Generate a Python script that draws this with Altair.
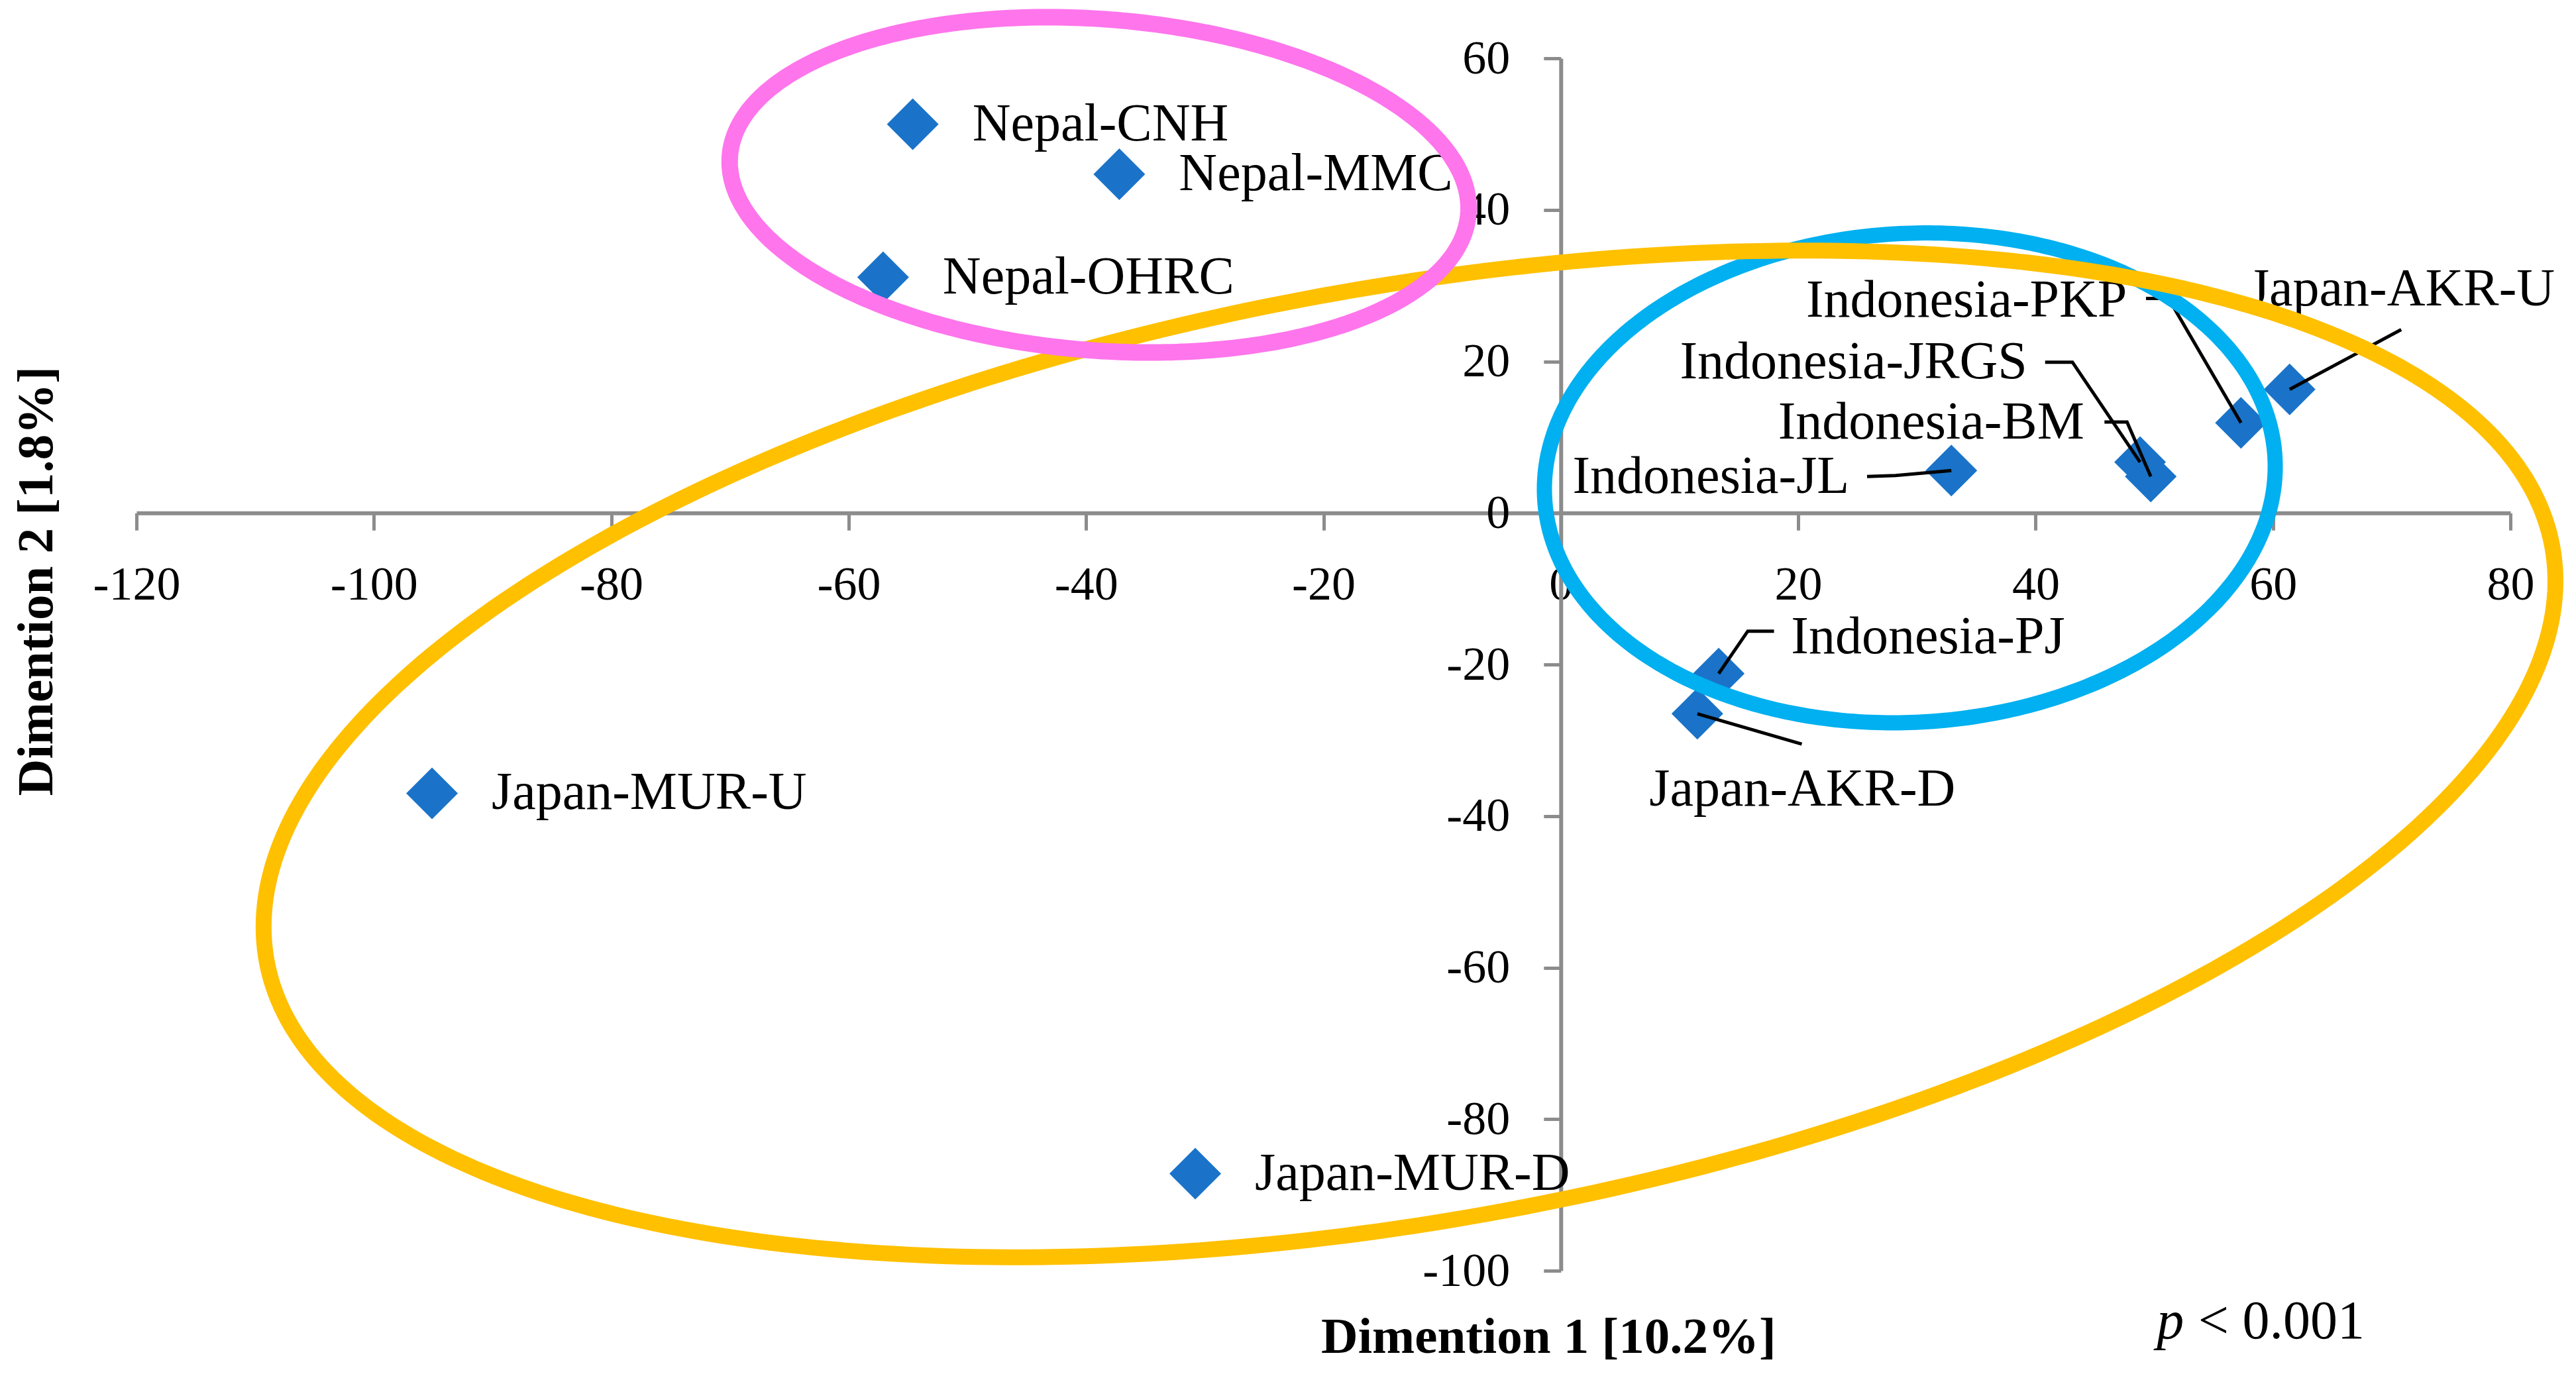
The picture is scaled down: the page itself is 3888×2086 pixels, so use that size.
import altair as alt
import numpy as np
import pandas as pd

# ---------------- data ----------------
names = ["Nepal-CNH", "Nepal-MMC", "Nepal-OHRC", "Japan-MUR-U", "Japan-MUR-D",
         "Indonesia-JL", "Indonesia-JRGS", "Indonesia-BM", "Indonesia-PKP",
         "Japan-AKR-U", "Indonesia-PJ", "Japan-AKR-D"]
dim1 = [-54.6, -37.2, -57.1, -95.1, -30.8, 32.9, 48.8, 49.7, 57.3, 61.4, 13.3, 11.5]
dim2 = [51.3, 44.7, 31.1, -37.0, -87.2, 5.6, 6.7, 4.8, 11.9, 16.3, -21.2, -26.5]

x_ticks = [-120, -100, -80, -60, -40, -20, 0, 20, 40, 60, 80]
y_ticks = [-100, -80, -60, -40, -20, 0, 20, 40, 60]

# labels placed directly to the right of their point
side_labels = ["Nepal-CNH", "Nepal-MMC", "Nepal-OHRC", "Japan-MUR-U", "Japan-MUR-D"]

# call-out labels (anchor in data units)
callout_names = ["Indonesia-PKP", "Indonesia-JRGS", "Indonesia-BM", "Indonesia-JL",
                 "Indonesia-PJ", "Japan-AKR-U", "Japan-AKR-D"]
callout_x = [47.7, 39.3, 44.1, 24.3, 19.4, 57.95, 7.45]
callout_y = [28.0, 19.9, 11.9, 4.7, -16.4, 29.5, -36.5]
callout_align = ["right", "right", "right", "right", "left", "left", "left"]

# leader lines: start / elbow points (data units), ending at the point itself
leader_pts = {
    "Indonesia-PKP": [(49.3, 28.3), (51.2, 28.3)],
    "Indonesia-JRGS": [(40.8, 19.9), (43.1, 19.9)],
    "Indonesia-BM": [(45.8, 12.0), (47.7, 12.0)],
    "Indonesia-JL": [(25.8, 4.8), (28.2, 4.95)],
    "Indonesia-PJ": [(17.96, -15.6), (15.75, -15.6)],
    "Japan-AKR-U": [(70.8, 24.2)],
    "Japan-AKR-D": [(20.3, -30.5)],
}

# group ellipses
ell_names = ["blue", "yellow", "pink"]
ell_cx = [29.4, -12.75, -38.9]
ell_cy = [4.63, -31.8, 43.3]
ell_a_px = [552, 1753, 559]
ell_b_px = [369, 704, 250]
ell_rot = [3.2, 10.25, -4.5]
ell_color = ["#00B0F0", "#FFC000", "#FF75EC"]
ell_width = [23, 24, 25]

# axis titles / note
title_x_text = "Dimention 1 [10.2%]"
title_y_text = "Dimention 2 [1.8%]"

# ---------------- layout ----------------
W, H = 3583, 1830
PX_X = W / 200.0
PX_Y = H / 160.0
FONT = "Liberation Serif"
AXIS_GRAY = "#8c8c8c"

x_scale = alt.Scale(domain=[-120, 80], nice=False, zero=False)
y_scale = alt.Scale(domain=[-100, 60], nice=False, zero=False)

x_axis = alt.Axis(values=x_ticks, orient="bottom", offset=-(H - 60 * PX_Y),
                  domainColor=AXIS_GRAY, domainWidth=6, tickColor=AXIS_GRAY,
                  tickWidth=5, tickSize=26, labelFont=FONT, labelFontSize=72,
                  labelColor="black", labelPadding=47, labelFlush=False,
                  labelOverlap=False, grid=False, title=None,
                  labelExpr="'' + datum.value")
y_axis = alt.Axis(values=y_ticks, orient="left", offset=-(120 * PX_X),
                  domainColor=AXIS_GRAY, domainWidth=6, tickColor=AXIS_GRAY,
                  tickWidth=5, tickSize=26, labelFont=FONT, labelFontSize=72,
                  labelColor="black", labelPadding=51, labelFlush=False,
                  labelOverlap=False, grid=False, title=None,
                  labelExpr="'' + datum.value")


def X(field="x"):
    return alt.X(f"{field}:Q", scale=x_scale, axis=x_axis)


def Y(field="y"):
    return alt.Y(f"{field}:Q", scale=y_scale, axis=y_axis)


pts = pd.DataFrame({"name": names, "x": dim1, "y": dim2})

points = alt.Chart(pts).mark_point(shape="diamond", filled=True, size=6084,
                                   opacity=1, color="#1A73C8").encode(x=X(), y=Y())

side = alt.Chart(pts[pts["name"].isin(side_labels)]).mark_text(
    align="left", baseline="middle", dx=90, font=FONT, fontSize=80, color="black"
).encode(x=X(), y=Y(), text="name:N")

co = pd.DataFrame({"name": callout_names, "x": callout_x, "y": callout_y,
                   "align": callout_align})
co_right = alt.Chart(co[co["align"] == "right"]).mark_text(
    align="right", baseline="middle", font=FONT, fontSize=80, color="black"
).encode(x=X(), y=Y(), text="name:N")
co_left = alt.Chart(co[co["align"] == "left"]).mark_text(
    align="left", baseline="middle", font=FONT, fontSize=80, color="black"
).encode(x=X(), y=Y(), text="name:N")

lrows = []
for nm, path in leader_pts.items():
    i = names.index(nm)
    full = list(path) + [(dim1[i], dim2[i])]
    for k, (lx, ly) in enumerate(full):
        lrows.append({"name": nm, "o": k, "x": lx, "y": ly})
leaders = alt.Chart(pd.DataFrame(lrows)).mark_line(
    color="black", strokeWidth=5
).encode(x=X(), y=Y(), detail="name:N", order="o:Q")

ell_layers = []
for k in range(len(ell_names)):
    t = np.linspace(0, 2 * np.pi, 400)
    th = np.radians(ell_rot[k])
    dxp = ell_a_px[k] * np.cos(t) * np.cos(th) - ell_b_px[k] * np.sin(t) * np.sin(th)
    dyp = ell_a_px[k] * np.cos(t) * np.sin(th) + ell_b_px[k] * np.sin(t) * np.cos(th)
    edf = pd.DataFrame({"o": np.arange(len(t)), "x": ell_cx[k] + dxp / PX_X,
                        "y": ell_cy[k] + dyp / PX_Y})
    ell_layers.append(
        alt.Chart(edf).mark_line(color=ell_color[k], strokeWidth=ell_width[k],
                                 strokeCap="round", strokeJoin="round")
        .encode(x=X(), y=Y(), order="o:Q")
    )

# axis titles and p-value note (placed in data units outside the domain)
tx = alt.Chart(pd.DataFrame({"x": [-1.03], "y": [-108.8], "t": [title_x_text]})).mark_text(
    align="center", baseline="middle", font=FONT, fontSize=77, fontWeight="bold",
    color="black").encode(x=X(), y=Y(), text="t:N")
ty = alt.Chart(pd.DataFrame({"x": [-128.4], "y": [-9.0], "t": [title_y_text]})).mark_text(
    align="center", baseline="middle", angle=270, font=FONT, fontSize=77,
    fontWeight="bold", color="black").encode(x=X(), y=Y(), text="t:N")
p_it = alt.Chart(pd.DataFrame({"x": [50.2], "y": [-106.75], "t": ["p"]})).mark_text(
    align="left", baseline="middle", font=FONT, fontSize=82, fontStyle="italic",
    color="black").encode(x=X(), y=Y(), text="t:N")
p_rest = alt.Chart(pd.DataFrame({"x": [53.7], "y": [-106.75], "t": ["< 0.001"]})).mark_text(
    align="left", baseline="middle", font=FONT, fontSize=82, color="black"
).encode(x=X(), y=Y(), text="t:N")

chart = alt.layer(
    points, leaders, side, co_right, co_left, tx, ty, p_it, p_rest, *ell_layers
).properties(
    width=W, height=H,
    autosize=alt.AutoSizeParams(type="none"),
    padding={"left": 206, "top": 88, "right": 3888 - 206 - W, "bottom": 2086 - 88 - H},
    background="white",
).configure_view(stroke=None)

chart.save("out.html", embed_options={"renderer": "svg", "actions": False})
